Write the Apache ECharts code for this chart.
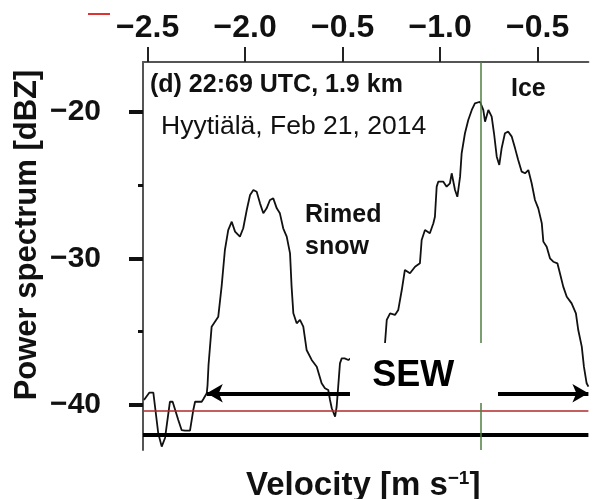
<!DOCTYPE html>
<html><head><meta charset="utf-8">
<script src="https://cdn.jsdelivr.net/npm/echarts@6/dist/echarts.min.js"></script>
<style>html,body{margin:0;padding:0;background:#fff}#c{width:593px;height:499px}</style>
</head><body><div id="c"></div>
<script>
const velocity = [-2.519,-2.492,-2.471,-2.446,-2.428,-2.411,-2.386,-2.372,-2.343,-2.326,
-2.309,-2.283,-2.266,-2.257,-2.223,-2.215,-2.197,-2.193,-2.188,-2.172,
-2.155,-2.138,-2.121,-2.104,-2.087,-2.069,-2.052,-2.027,-2.010,-1.992,
-1.975,-1.958,-1.941,-1.924,-1.907,-1.890,-1.873,-1.856,-1.838,-1.822,
-1.805,-1.787,-1.770,-1.762,-1.753,-1.736,-1.719,-1.702,-1.685,-1.659,
-1.633,-1.608,-1.591,-1.574,-1.565,-1.556,-1.548,-1.539,-1.531,-1.523,
-1.514,-1.505,-1.490,-1.471,-1.411,-1.350,-1.308,-1.283,-1.274,-1.257,
-1.232,-1.215,-1.197,-1.181,-1.155,-1.129,-1.104,-1.095,-1.078,-1.053,
-1.035,-1.027,-1.018,-1.010,-0.984,-0.967,-0.950,-0.941,-0.924,-0.912,
-0.898,-0.890,-0.873,-0.856,-0.838,-0.822,-0.796,-0.779,-0.770,-0.753,
-0.736,-0.724,-0.710,-0.697,-0.685,-0.668,-0.651,-0.633,-0.616,-0.600,
-0.582,-0.565,-0.548,-0.531,-0.514,-0.497,-0.479,-0.471,-0.454,-0.437,
-0.420,-0.399,-0.386,-0.369,-0.351,-0.326,-0.304,-0.292,-0.274,-0.263,
-0.249,-0.240];
const power = [-39.66,-39.16,-39.16,-41.91,-42.84,-42.25,-39.78,-39.78,-41.02,-41.71,
-41.75,-41.75,-40.34,-39.78,-39.78,-39.61,-39.20,-38.64,-37.27,-34.66,
-34.32,-33.98,-31.93,-29.43,-28.07,-27.50,-28.18,-28.52,-27.95,-26.70,
-25.68,-25.34,-25.46,-26.25,-26.93,-26.59,-26.02,-25.91,-26.59,-26.93,
-27.95,-28.52,-29.66,-31.93,-33.75,-34.43,-34.20,-34.66,-36.25,-36.93,
-37.39,-38.52,-38.86,-38.98,-39.66,-40.22,-40.34,-40.80,-40.12,-38.75,
-37.16,-36.82,-36.82,-36.93,-36.39,-36.11,-36.27,-35.79,-34.20,-33.75,
-33.86,-33.52,-32.16,-30.79,-31.02,-30.57,-30.34,-28.75,-28.07,-28.29,
-27.61,-27.16,-25.11,-24.77,-24.77,-25.11,-24.88,-24.20,-25.34,-25.80,
-24.43,-22.84,-21.47,-20.57,-19.88,-19.43,-19.32,-19.88,-20.68,-19.88,
-20.34,-21.47,-23.07,-23.63,-22.50,-21.47,-21.36,-21.70,-22.50,-23.29,
-24.09,-24.20,-23.98,-24.88,-26.02,-26.59,-27.61,-28.86,-29.21,-30.00,
-30.23,-30.34,-31.02,-31.93,-32.62,-33.07,-33.75,-34.89,-36.02,-37.39,
-38.52,-38.75];
const xTickValues = [-2.5, -2.0, -1.5, -1.0, -0.5];
const xTickLabels = ['\u22122.5', '\u22122.0', '\u22120.5', '\u22121.0', '\u22120.5'];
const yTickValues = [-40, -30, -20];
const yMinorTicks = [-35, -25];
const noiseLevel = -40.4;
const floorLevel = -42.0;
const peakVelocity = -0.787;
const sewLevel = -39.2;
const sewRange = [-2.197, -0.24];
const sewBoxX = [-1.4626, -0.7036];
const sewBoxY = [-39.86, -35.77];

const FONT = '"Liberation Sans", Arial, sans-serif';
const chart = echarts.init(document.getElementById('c'), null, {renderer: 'canvas'});
const spectrum = velocity.map((v, i) => [v, power[i]]);

chart.setOption({
  animation: false,
  backgroundColor: '#fff',
  grid: {left: 143, right: 4.6, top: 62, bottom: 49, containLabel: false},
  xAxis: [{
    type: 'value', position: 'top', min: -2.524, max: -0.24,
    axisLine: {show: true, lineStyle: {color: '#555', width: 2}},
    axisTick: {show: true, customValues: xTickValues, length: 15, inside: false, lineStyle: {color: '#222', width: 2}},
    axisLabel: {show: true, customValues: xTickValues, margin: 18, fontFamily: FONT, fontWeight: 'bold', fontSize: 32, color: '#111',
      formatter: function (v) { const i = xTickValues.findIndex(t => Math.abs(t - v) < 1e-6); return i >= 0 ? xTickLabels[i] : ''; }},
    splitLine: {show: false}
  }],
  yAxis: [{
    type: 'value', min: -43.07, max: -16.61, position: 'left',
    axisLine: {show: true, lineStyle: {color: '#555', width: 2}},
    axisTick: {show: true, customValues: yTickValues, length: 14, lineStyle: {color: '#111', width: 4}},
    axisLabel: {show: true, customValues: yTickValues, margin: 42, fontFamily: FONT, fontWeight: 'bold', fontSize: 30, color: '#111',
      formatter: v => '\u2212' + Math.abs(v)},
    splitLine: {show: false}
  }, {
    type: 'value', min: -43.07, max: -16.61, position: 'left',
    axisLine: {show: false},
    axisTick: {show: true, customValues: yMinorTicks, length: 5, lineStyle: {color: '#111', width: 3}},
    axisLabel: {show: false}, splitLine: {show: false}
  }],
  series: [{
    type: 'line', data: spectrum, showSymbol: false, z: 2,
    lineStyle: {color: '#111', width: 1.8}, silent: true,
    markLine: {
      silent: true, symbol: ['none', 'none'], animation: false, label: {show: false},
      data: [
        {yAxis: noiseLevel, lineStyle: {color: '#b22a2a', width: 1.5, type: 'solid'}},
        {yAxis: floorLevel, lineStyle: {color: '#000', width: 4, type: 'solid'}},
        {xAxis: peakVelocity, lineStyle: {color: '#4f7d43', width: 1.5, type: 'solid'}}
      ]
    }
  }, {
    type: 'line', data: [], z: 3,
    markLine: {
      silent: true, animation: false, label: {show: false},
      symbol: ['arrow', 'arrow'], symbolSize: [14, 16],
      data: [[{coord: [sewRange[0], sewLevel]}, {coord: [sewRange[1], sewLevel]}]],
      lineStyle: {color: '#000', width: 4, type: 'solid'},
      itemStyle: {color: '#000'}
    }
  }, {
    type: 'line', data: [], z: 10,
    markArea: {
      z: 30, silent: true, animation: false,
      itemStyle: {color: '#fff', opacity: 1},
      label: {show: true, position: ['15%', '55%'], align: 'left', verticalAlign: 'middle',
        fontFamily: FONT, fontWeight: 'bold', fontSize: 36, color: '#000'},
      data: [[{name: 'SEW', coord: [sewBoxX[0], sewBoxY[1]]}, {coord: [sewBoxX[1], sewBoxY[0]]}]]
    }
  }],
  graphic: [
    {type: 'line', shape: {x1: 88, y1: 14, x2: 110, y2: 14}, style: {stroke: '#d33', lineWidth: 2}, z: 20},
    {type: 'text', x: 27.5, y: 235, rotation: Math.PI / 2, z: 20, style: {text: 'Power spectrum [dBZ]', align: 'center', verticalAlign: 'middle', fontFamily: FONT, fontWeight: 'bold', fontSize: 31, fill: '#111'}},
    {type: 'text', left: 150, top: 73, z: 20, style: {text: '(d) 22:69 UTC, 1.9 km', fontFamily: FONT, fontWeight: 'bold', fontSize: 25, fill: '#111'}},
    {type: 'text', left: 161, top: 113, z: 20, style: {text: 'Hyytiälä, Feb 21, 2014', fontFamily: FONT, fontSize: 26.5, fill: '#111'}},
    {type: 'text', left: 511, top: 77, z: 20, style: {text: 'Ice', fontFamily: FONT, fontWeight: 'bold', fontSize: 25, fill: '#111'}},
    {type: 'text', left: 305, top: 203, z: 20, style: {text: 'Rimed', fontFamily: FONT, fontWeight: 'bold', fontSize: 25, fill: '#111'}},
    {type: 'text', left: 305, top: 235, z: 20, style: {text: 'snow', fontFamily: FONT, fontWeight: 'bold', fontSize: 25, fill: '#111'}},
    {type: 'text', left: 246, top: 469, z: 20, style: {
      text: '{a|Velocity [m s}{s|\u22121}{a|]}',
      rich: {a: {fontFamily: FONT, fontWeight: 'bold', fontSize: 33, fill: '#111', lineHeight: 34},
             s: {fontFamily: FONT, fontWeight: 'bold', fontSize: 19, fill: '#111', verticalAlign: 'top', lineHeight: 34}}}}
  ]
});
</script></body></html>
